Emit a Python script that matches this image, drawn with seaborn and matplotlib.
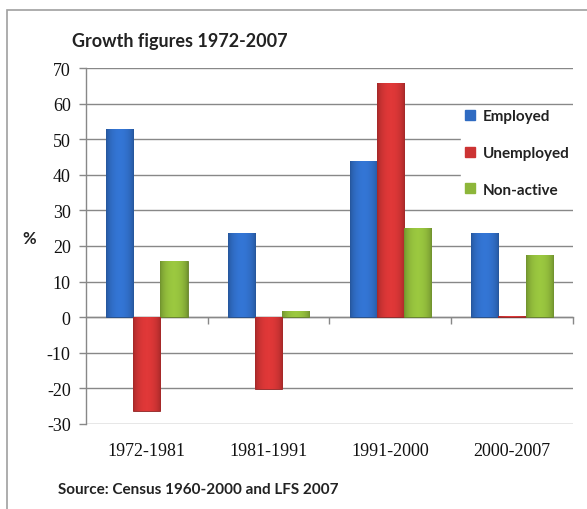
import numpy as np
import pandas as pd
import matplotlib
matplotlib.use("Agg")
import matplotlib.pyplot as plt
import matplotlib.colors as mcolors
from matplotlib.patches import Rectangle
import seaborn as sns

# Growth figures by period (%)
periods = ["1972-1981", "1981-1991", "1991-2000", "2000-2007"]
employed = [53.0, 23.7, 44.0, 23.6]
unemployed = [-26.3, -20.3, 65.8, 0.2]
non_active = [15.8, 1.8, 25.0, 17.5]
groups = ["Employed", "Unemployed", "Non-active"]
y_ticks = [-30, -20, -10, 0, 10, 20, 30, 40, 50, 60, 70]

palette = {"Employed": "#2F6BC2", "Unemployed": "#CC3333", "Non-active": "#8DB63A"}

df = pd.DataFrame({
    "period": periods * 3,
    "group": [g for g in groups for _ in periods],
    "value": employed + unemployed + non_active,
})

sns.set_style("white")
plt.rcParams["font.family"] = ["Lato", "DejaVu Sans"]

fig = plt.figure(figsize=(5.87, 5.10), dpi=100)
ax = fig.add_axes([0.1465, 0.1667, 0.8295, 0.698])

sns.barplot(data=df, x="period", y="value", hue="group", order=periods,
            hue_order=groups, palette=palette, width=0.67, saturation=1,
            edgecolor="none", legend=False, ax=ax, zorder=3)

ax.set_ylim(y_ticks[0], y_ticks[-1])
ax.set_xlim(-0.5, len(periods) - 0.5)

# shaded, bevelled look on each bar
for patch in ax.patches:
    x0, y0 = patch.get_x(), patch.get_y()
    w, h = patch.get_width(), patch.get_height()
    if abs(h) < 1e-9:
        continue
    base = np.array(mcolors.to_rgb(patch.get_facecolor()))
    t = np.linspace(0, 1, 64)
    shade = 0.78 + 0.32 * np.sin(np.pi * t) ** 0.6
    row = np.clip(base[None, :] * shade[:, None], 0, 1)
    img = np.repeat(row[None, :, :], 2, axis=0)
    lo, hi = min(y0, y0 + h), max(y0, y0 + h)
    im = ax.imshow(img, extent=(x0, x0 + w, lo, hi), aspect="auto",
                   interpolation="bilinear", zorder=3.5)
    im.set_clip_path(patch)
    patch.set_edgecolor(tuple(base * 0.7))
    patch.set_linewidth(0.6)

serif = ["Liberation Serif", "DejaVu Serif"]
ax.set_yticks(y_ticks)
ax.set_yticklabels([str(v) for v in y_ticks], family=serif, fontsize=13, color="#111111")
ax.set_xticks(range(len(periods)))
ax.set_xticklabels(periods, family=serif, fontsize=13, color="#111111")
ax.tick_params(axis="x", length=0, pad=13)
ax.tick_params(axis="y", length=5, width=1, color="#888888", pad=6, left=True)

ax.yaxis.grid(True, color="#888888", linewidth=1)
ax.set_axisbelow(True)
for side in ["top", "right", "bottom"]:
    ax.spines[side].set_visible(False)
ax.spines["left"].set_color("#888888")
ax.spines["left"].set_linewidth(1)

# category axis crossing at zero with separator ticks
zero_pos = (0 - y_ticks[0]) / (y_ticks[-1] - y_ticks[0])
sec = ax.secondary_xaxis(zero_pos)
sec.set_xticks(np.arange(len(periods)) + 0.5)
sec.set_xticklabels([])
sec.tick_params(length=5, width=1, color="#888888", direction="out")
sec.spines["bottom"].set_color("#888888")
sec.spines["bottom"].set_linewidth(1)
sec.spines["bottom"].set_zorder(4)

ax.set_xlabel("")
ax.set_ylabel("%", rotation=0, fontsize=12, fontweight="bold", color="#222222")
ax.yaxis.set_label_coords(-0.117, 0.5)

# legend
handles = [plt.Line2D([], [], marker="s", linestyle="none", markersize=6.5,
                      markerfacecolor=palette[g], markeredgecolor=palette[g])
           for g in groups]
leg = ax.legend(handles, groups, loc="upper left", bbox_to_anchor=(0.755, 0.915),
                frameon=True, fancybox=False, framealpha=1, edgecolor="white",
                handlelength=0.7, handletextpad=0.5, labelspacing=1.5,
                borderpad=0.2, prop={"family": ["Lato", "DejaVu Sans"], "size": 11,
                                     "weight": "bold"})
for txt in leg.get_texts():
    txt.set_color("#222222")
leg.set_zorder(6)

fig.text(72 / 587, 1 - 42 / 510, "Growth figures 1972-2007", fontsize=13,
         fontweight="bold", color="#222222", va="center", ha="left")
fig.text(58 / 587, 1 - 490 / 510, "Source: Census 1960-2000 and LFS 2007", fontsize=11,
         fontweight="bold", color="#222222", va="center", ha="left")

# chart frame
fig.patches.append(Rectangle((7 / 587, -0.05), 1.1, 1 - 11 / 510 + 0.05,
                             transform=fig.transFigure, fill=False,
                             edgecolor="#A0A0A0", linewidth=1.2))

fig.savefig("out.png", dpi=100, facecolor="white")
